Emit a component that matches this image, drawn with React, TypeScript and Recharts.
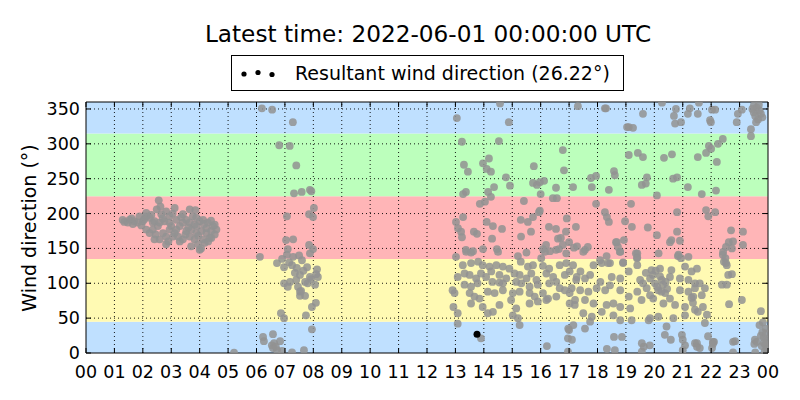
import React from 'react';
import { ScatterChart, Scatter, XAxis, YAxis, ReferenceArea, ReferenceLine } from 'recharts';

type P = [number, number];

// Early-morning cluster (hour, direction °)
const nightPoints: P[] = [
  [1.35,188],[1.53,191],[1.7,189],[1.88,196],[1.82,187],[2.0,189],[2.12,201],[2.24,194],[2.35,187],[2.56,219],
  [2.49,206],[2.65,199],[2.76,189],[2.82,203],[2.94,196],[3.12,208],[3.18,191],[3.3,182],[3.41,199],[3.65,206],
  [3.76,196],[3.82,184],[4.0,189],[4.12,191],[4.29,187],[4.47,182],[4.59,177],[4.53,170],[4.35,165],[4.18,158],
  [4.0,148],[3.94,156],[3.82,163],[3.65,167],[3.41,163],[3.3,160],[3.06,167],[2.82,156],[2.59,163],[2.41,163],
  [2.24,172],[2.12,177],[2.35,177],[2.53,182],[2.71,172],[2.94,177],[3.12,172],[3.24,167],[3.53,175],[3.71,177],
  [3.88,172],[4.06,175],[4.24,172],[4.24,179],[4.41,175],[2.41,189],[2.59,187],[2.94,187],[3.41,187],[3.53,191],
  [3.65,187],[3.88,194],[2.82,167],[3.0,182],[3.18,177],[4.12,163],[4.41,165],[4.53,184],[2.12,196],[1.65,185],
  [1.47,187],[1.29,191],[1.95,183],[2.3,198],[2.7,193],[3.05,200],[3.35,195],[3.6,180],[3.9,182],[4.15,185],
  [4.4,190],[2.45,170],[2.9,160],[3.5,170],[3.95,168],[4.3,160],[2.05,192],[1.6,193],[3.7,153],[2.62,210],
  [3.85,205],[4.05,150],
];

// Morning cluster 05–08 h
const morningPoints: P[] = [
  [6.19,351],[6.55,349],[7.28,331],[6.8,298],[7.17,297],[7.4,269],[7.32,229],[7.59,231],[7.88,234],[7.93,232],
  [8.02,208],[7.07,196],[7.85,199],[7.99,195],[7.04,162],[7.29,163],[7.1,149],[7.99,149],[7.85,155],[6.12,138],
  [6.9,135],[6.72,129],[7.07,141],[7.29,138],[7.6,133],[7.88,143],[6.97,123],[7.25,126],[7.42,122],[7.78,123],
  [8.13,120],[7.53,112],[7.88,109],[8.16,109],[8.06,98],[6.97,100],[7.18,102],[7.1,95],[7.46,95],[7.53,88],
  [7.71,102],[7.92,106],[8.1,113],[7.53,82],[7.71,82],[8.09,72],[7.95,66],[6.86,57],[6.97,50],[7.74,54],
  [7.95,34],[7.57,89],[6.23,23],[6.26,17],[6.58,27],[6.83,17],[6.54,11],[6.58,7],[6.72,4],[6.9,3],
  [7.25,1],[7.67,4],[5.21,0.5],[6.62,14],[6.68,9],[7.35,115],[7.65,118],[7.8,100],[7.4,105],[7.15,130],
  [7.5,140],
];

// Afternoon 13–18 h
const afternoonPoints: P[] = [
  [14.57,358],[13.05,337],[14.88,331],[17.31,354],[18.3,351],
  [13.23,303],[14.53,304],[14.18,279],[13.97,272],[13.3,270],[13.44,260],[14.1,264],[14.25,260],[15.76,268],[16.78,291],
  [16.82,262],[14.78,252],[14.36,238],[14.92,240],[14.15,231],[13.37,231],[13.27,228],[14.25,224],[15.73,244],[15.87,241],
  [15.97,245],[16.12,247],[16.0,228],[16.54,237],[16.43,222],[16.57,222],[17.14,238],[17.77,251],[17.95,254],[17.8,238],
  [18.4,234],
  [13.86,214],[14.04,217],[15.41,218],[15.97,204],[13.02,188],[13.27,195],[13.09,179],[13.2,174],[13.23,166],[13.65,174],
  [13.76,171],[14.1,188],[14.32,182],[14.64,178],[14.29,164],[13.37,148],[13.62,146],[13.97,149],[14.46,149],[15.3,191],
  [15.55,188],[15.73,195],[15.66,174],[15.31,167],[15.94,202],[16.29,181],[16.54,178],[16.61,164],[16.71,165],[16.92,193],
  [16.89,174],[17.24,181],[17.0,159],[16.19,155],[16.08,149],[16.33,146],[16.54,148],[16.64,149],[16.78,155],[17.17,151],
  [17.28,153],[17.56,148],[17.66,152],[18.33,195],[18.4,188],[18.65,159],[18.72,152],[17.95,214],[18.26,202],
  [13.02,138],[13.38,145],[13.55,144],[14.5,145],[15.2,139],[15.5,144],[16.02,136],[16.15,145],[16.9,143],
  [13.26,126],[13.55,129],[13.8,131],[13.96,126],[14.2,124],[14.44,126],[14.67,124],[14.9,121],[15.3,131],[15.55,124],
  [15.73,126],[16.08,125],[16.3,121],[16.67,126],[16.9,129],[17.14,126],
  [13.08,109],[13.32,114],[13.5,112],[13.73,107],[13.9,114],[14.08,109],[14.26,117],[14.55,112],[14.79,107],[15.08,114],
  [15.26,112],[15.5,107],[15.67,114],[15.85,105],[16.2,114],[16.44,109],[16.55,102],[16.85,112],[17.02,117],[17.25,105],
  [13.32,98],[13.55,95],[13.78,100],[14.3,102],[14.55,101],[14.67,100],[15.14,102],[15.32,100],[15.61,95],[15.9,98],
  [16.3,100],[16.67,93],[16.85,90],[12.9,90],[12.97,86],
  [13.5,86],[13.67,81],[13.85,78],[14.14,88],[14.38,86],[14.67,90],[15.02,86],[15.26,88],[15.61,86],[15.79,81],
  [16.08,86],[16.26,78],[16.55,81],[17.02,86],
  [13.55,71],[13.96,66],[14.55,69],[14.96,76],[15.14,64],[15.61,71],[15.9,74],[16.2,76],[17.02,71],[17.2,69],[12.93,66],
  [13.08,57],[14.14,57],[14.32,59],[15.02,54],[15.2,50],[13.08,42],[15.26,40],
  [13.9,21],[16.22,10],[16.96,21],[17.1,19],[16.96,2],[17.0,33],[18.33,6],[16.97,35],
];

// Evening 17–21.5 h
const eveningPoints: P[] = [
  [17.5,145],[18.32,139],[18.8,145],[19.4,143],[19.4,137],[20.15,143],[20.85,141],[21.2,138],
  [17.4,117],[17.56,107],[17.86,126],[18.15,129],[18.44,129],[18.9,130],[19.4,126],[19.9,119],[20.2,121],[20.6,119],
  [21.08,124],[21.5,121],
  [17.27,109],[17.74,112],[18.1,102],[18.5,109],[18.8,107],[19.1,117],[19.5,105],[19.85,107],[20.02,100],[20.26,105],
  [20.55,109],[20.9,107],[21.2,105],[21.43,100],
  [17.09,93],[17.39,90],[17.68,88],[17.97,93],[18.27,90],[18.44,97],[18.8,90],[19.1,81],[19.4,88],[19.73,93],
  [19.85,83],[20.14,90],[20.38,86],[20.55,78],[20.9,90],[21.2,88],[21.37,81],
  [17.21,76],[17.56,76],[17.86,71],[18.32,69],[18.56,71],[18.8,66],[19.15,64],[19.55,76],[19.96,78],[20.32,71],
  [20.73,69],[21.08,66],[21.43,62],
  [17.5,57],[17.8,52],[18.15,59],[18.56,54],[18.8,47],[19.2,47],[19.8,47],[19.85,50],[20.14,52],[20.43,38],
  [20.67,50],[21.08,54],[17.15,40],[17.56,35],[17.74,45],
  [19.95,112],[20.05,118],[20.2,110],[20.3,98],[20.4,102],[20.1,95],[19.7,115],[20.45,92],[19.6,100],[20.25,88],
];

// Night 18–24 h
const latePoints: P[] = [
  [20.27,359],[19.6,343],[20.76,350],[20.69,340],[20.73,329],[20.94,331],[21.25,351],[21.18,343],[21.53,343],[21.57,359],
  [22.03,349],[22.14,349],[21.96,334],[21.99,331],[19.04,324],[19.1,324],[19.25,323],[18.26,351],[23.08,349],[22.94,343],
  [22.9,331],[23.4,321],[23.4,311],
  [19.1,284],[19.42,287],[19.6,281],[20.34,280],[20.62,285],[21.53,281],[21.82,287],[21.92,297],[22.24,300],[22.41,307],
  [22.0,293],[22.2,274],[18.58,261],[18.61,255],[19.74,252],[19.56,241],[19.7,243],[20.66,250],[20.8,252],[21.18,238],
  [21.67,228],[22.17,233],[20.09,226],
  [19.18,214],[21.82,205],[21.9,196],[22.14,202],[20.8,202],[18.97,189],[19.21,181],[19.77,180],[20.09,169],[20.8,174],
  [22.7,176],[23.12,174],[18.68,159],[18.93,162],[20.55,159],[20.6,162],[20.9,161],[22.62,159],[22.77,160],[22.52,152],
  [23.12,155],[18.79,145],[19.35,143],[19.39,136],[20.83,139],[20.94,136],[22.41,141],[22.45,131],[22.55,126],[22.73,113],
  [18.09,133],[18.9,129],[18.37,129],
  [18.58,23],[18.86,23],[18.61,4],[19.56,14],[19.63,9],[19.84,11],[19.56,2],[20.37,26],[20.58,19],[20.97,26],
  [21.0,19],[21.08,11],[21.0,4],[21.43,14],[21.5,14],[21.89,24],[22.1,16],[22.03,7],[22.77,16],[22.84,17],
  [22.77,1],[23.54,19],[23.6,16],[23.52,13],
  [21.31,117],[21.43,93],[21.6,100],[21.78,93],[21.67,83],[21.31,79],[21.36,72],[21.53,59],[21.71,66],[21.85,55],
  [21.78,43],[22.42,145],[22.5,136],[22.52,129],[22.6,112],[22.38,98],[22.55,98],[22.63,70],[23.08,76],[23.75,60],
  [22.73,150],
  [23.45,350],[23.5,345],[23.55,340],[23.6,352],[23.65,335],[23.7,348],[23.75,343],[23.5,355],[23.58,331],[23.68,356],
  [23.8,338],
  [23.7,40],[23.8,30],[23.85,22],[23.9,12],[23.95,5],[23.75,25],[23.82,44],[23.92,35],[23.97,18],[23.88,2],
  [23.78,10],[23.93,28],[23.98,8],[23.85,15],
  [21.5,9],[21.6,7],[22.06,16],[22.06,13],[23.55,1],
];

const resultantPoint: P[] = [[13.76, 27]];
const resultantValue = 26.22;

const xTicks = [0,1,2,3,4,5,6,7,8,9,10,11,12,13,14,15,16,17,18,19,20,21,22,23,24];
const yTicks = [0,50,100,150,200,250,300,350];
const bandEdges = [0,45,135,225,315,360];
const bandColors = ['#bfe0ff','#fffab3','#ffb5b7','#bcffbc','#bfe0ff'];

const titleText = 'Latest time: 2022-06-01 00:00:00 UTC';
const yLabel = 'Wind direction (°)';

const toData = (pts: P[]) => pts.map(([h, d]) => ({ h, d }));
const allPoints = toData([...nightPoints, ...morningPoints, ...afternoonPoints, ...eveningPoints, ...latePoints]);
const resultantData = toData(resultantPoint);

const FONT = 'DejaVu Sans';
const PLOT_H = 251;
const PLOT_W = 682;

const XTick = (props: any) => {
  const { x, y, payload } = props;
  const label = String(payload.value % 24).padStart(2, '0');
  return (
    <g>
      <line x1={x} y1={y} x2={x} y2={y - 5} stroke="#000" />
      <line x1={x} y1={y - PLOT_H} x2={x} y2={y - PLOT_H + 5} stroke="#000" />
      <text x={x} y={y + 24.5} textAnchor="middle" fontSize={17.5} fontFamily={FONT} fill="#000">{label}</text>
    </g>
  );
};

const YTick = (props: any) => {
  const { x, y, payload } = props;
  return (
    <g>
      <line x1={x} y1={y} x2={x + 5} y2={y} stroke="#000" />
      <line x1={x + PLOT_W} y1={y} x2={x + PLOT_W - 5} y2={y} stroke="#000" />
      <text x={x - 6} y={y + 6} textAnchor="end" fontSize={17.5} fontFamily={FONT} fill="#000">{payload.value}</text>
    </g>
  );
};

const greyDot = (p: any) => (
  <circle cx={p.cx} cy={p.cy} r={3.9} fill="#929292" fillOpacity={0.85} />
);
const blackDot = (p: any) => <circle cx={p.cx} cy={p.cy} r={3.5} fill="#000" />;

export default function App() {
  return (
    <div style={{ position: 'absolute', left: 0, top: 0, width: 800, height: 400, background: '#fff' }}>
      <ScatterChart width={800} height={400} margin={{ top: 102, right: 32, bottom: 0, left: 0 }}>
        <XAxis
          dataKey="h" type="number" domain={[0, 24]} ticks={xTicks} allowDataOverflow
          height={47} tickSize={0} tickMargin={0} tickLine={false} axisLine={false} tick={<XTick />} interval={0}
        />
        <YAxis
          dataKey="d" type="number" domain={[0, 360]} ticks={yTicks} allowDataOverflow
          width={86} tickSize={0} tickMargin={0} tickLine={false} axisLine={false} tick={<YTick />} interval={0}
        />
        {bandColors.map((c, i) => (
          <ReferenceArea key={'b' + i} x1={0} x2={24} y1={bandEdges[i]} y2={bandEdges[i + 1]} fill={c} fillOpacity={1} stroke="none" />
        ))}
        {xTicks.slice(1, -1).map((t) => (
          <ReferenceLine key={'gx' + t} x={t} stroke="#000" strokeWidth={0.9} strokeDasharray="1 3" />
        ))}
        {yTicks.slice(1).map((t) => (
          <ReferenceLine key={'gy' + t} y={t} stroke="#000" strokeWidth={0.9} strokeDasharray="1 3" />
        ))}
        <Scatter data={allPoints} isAnimationActive={false} shape={greyDot} />
        <Scatter data={resultantData} isAnimationActive={false} shape={blackDot} />
        <ReferenceArea x1={0} x2={24} y1={0} y2={360} fill="none" stroke="#000" strokeWidth={1} />
      </ScatterChart>
      <svg width={800} height={400} style={{ position: 'absolute', left: 0, top: 0, pointerEvents: 'none' }}>
        <text x={428} y={42} textAnchor="middle" fontSize={23.2} fontFamily={FONT} fill="#000">{titleText}</text>
        <rect x={231.5} y={55.5} width={392} height={35} fill="#fff" stroke="#000" strokeWidth={1} />
        <circle cx={244} cy={74} r={2.6} fill="#000" />
        <circle cx={258} cy={72.5} r={2.6} fill="#000" />
        <circle cx={272} cy={74.5} r={2.6} fill="#000" />
        <text x={295} y={80} fontSize={19} fontFamily={FONT} fill="#000">{`Resultant wind direction (${resultantValue}°)`}</text>
        <text transform="translate(36,228) rotate(-90)" textAnchor="middle" fontSize={19} fontFamily={FONT} fill="#000">{yLabel}</text>
      </svg>
    </div>
  );
}
